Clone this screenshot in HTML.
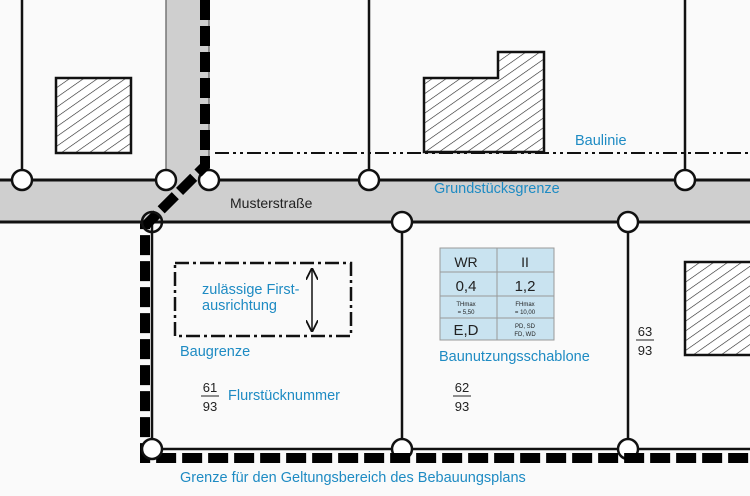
<!DOCTYPE html>
<html><head><meta charset="utf-8"><style>
html,body{margin:0;padding:0;background:#fafafa;}
svg{display:block;font-family:"Liberation Sans",sans-serif;}
.b{fill:#1e8bc3;font-size:14.5px;}
</style></head><body>
<svg width="750" height="496" viewBox="0 0 750 496" xmlns="http://www.w3.org/2000/svg">
<defs>
<pattern id="h" patternUnits="userSpaceOnUse" width="8" height="8" patternTransform="rotate(-35)">
<rect width="8" height="8" fill="#fff"/><line x1="0" y1="0" x2="8" y2="0" stroke="#222" stroke-width="1.2"/>
</pattern>
<marker id="a" viewBox="0 0 10 10" refX="9" refY="5" markerWidth="8" markerHeight="8" orient="auto-start-reverse"><path d="M0,0 L10,5 L0,10" fill="none" stroke="#111" stroke-width="1.5"/></marker>
</defs>
<rect width="750" height="496" fill="#fafafa"/>
<rect x="166" y="0" width="43" height="181" fill="#cfcfcf"/>
<rect x="0" y="180" width="750" height="42" fill="#cfcfcf"/>
<line x1="166" y1="0" x2="166" y2="180" stroke="#777" stroke-width="1.5"/>
<line x1="209" y1="0" x2="209" y2="180" stroke="#777" stroke-width="1.5"/>
<line x1="0" y1="180" x2="166" y2="180" stroke="#111" stroke-width="3"/>
<line x1="209" y1="180" x2="750" y2="180" stroke="#111" stroke-width="3"/>
<line x1="0" y1="222" x2="750" y2="222" stroke="#111" stroke-width="3"/>
<g stroke="#111" stroke-width="2.5">
<line x1="22" y1="0" x2="22" y2="180"/>
<line x1="369" y1="0" x2="369" y2="180"/>
<line x1="685" y1="0" x2="685" y2="180"/>
<line x1="152" y1="222" x2="152" y2="449"/>
<line x1="402" y1="222" x2="402" y2="449"/>
<line x1="628" y1="222" x2="628" y2="449"/>
<line x1="152" y1="449" x2="750" y2="449"/>
</g>
<rect x="56" y="78" width="75" height="75" fill="url(#h)" stroke="#111" stroke-width="2.5"/>
<path d="M424,152 L424,78 L498,78 L498,52 L544,52 L544,152 Z" fill="url(#h)" stroke="#111" stroke-width="2.5"/>
<rect x="685" y="262" width="70" height="93" fill="url(#h)" stroke="#111" stroke-width="2.5"/>
<line x1="215" y1="153" x2="750" y2="153" stroke="#111" stroke-width="2" stroke-dasharray="14,4,3,4,3,4"/>
<rect x="175" y="263" width="176" height="73" fill="none" stroke="#111" stroke-width="2.5" stroke-dasharray="14,4,3,4"/>
<line x1="312" y1="269" x2="312" y2="331" stroke="#111" stroke-width="1.5" marker-start="url(#a)" marker-end="url(#a)"/>
<g fill="#fff" stroke="#111" stroke-width="2.5">
<circle cx="22" cy="180" r="10"/><circle cx="166" cy="180" r="10"/><circle cx="209" cy="180" r="10"/>
<circle cx="369" cy="180" r="10"/><circle cx="685" cy="180" r="10"/>
<circle cx="402" cy="222" r="10"/><circle cx="628" cy="222" r="10"/>
<circle cx="402" cy="449" r="10"/><circle cx="628" cy="449" r="10"/>
</g>
<path d="M205,0 L205,166 L145,226 L145,458 L750,458" fill="none" stroke="#000" stroke-width="10" stroke-dasharray="20,6"/>
<g fill="#fff" stroke="#111" stroke-width="2.5">
<circle cx="152" cy="222" r="10" fill="none"/><circle cx="152" cy="449" r="10"/>
</g>
<rect x="440" y="248" width="114" height="92" fill="#c9e3f0" stroke="#999" stroke-width="1"/>
<g stroke="#999" stroke-width="1"><line x1="497" y1="248" x2="497" y2="340"/><line x1="440" y1="272" x2="554" y2="272"/><line x1="440" y1="296" x2="554" y2="296"/><line x1="440" y1="318" x2="554" y2="318"/></g>
<g fill="#222" text-anchor="middle">
<text x="466" y="267" font-size="14">WR</text><text x="525" y="267" font-size="14">II</text>
<text x="466" y="291" font-size="15">0,4</text><text x="525" y="291" font-size="15">1,2</text>
<text x="466" y="306" font-size="6">THmax</text><text x="466" y="314" font-size="6">= 5,50</text>
<text x="525" y="306" font-size="6">FHmax</text><text x="525" y="314" font-size="6">= 10,00</text>
<text x="466" y="335" font-size="15">E,D</text>
<text x="525" y="328" font-size="6">PD, SD</text><text x="525" y="336" font-size="6">FD, WD</text>
</g>
<text x="575" y="145" class="b">Baulinie</text>
<text x="434" y="193" class="b">Grundstücksgrenze</text>
<text x="230" y="208" font-size="14" fill="#222">Musterstraße</text>
<text x="202" y="294" class="b">zulässige First-</text>
<text x="202" y="310" class="b">ausrichtung</text>
<text x="180" y="356" class="b">Baugrenze</text>
<text x="439" y="361" class="b">Baunutzungsschablone</text>
<text x="228" y="400" class="b">Flurstücknummer</text>
<text x="180" y="482" class="b">Grenze für den Geltungsbereich des Bebauungsplans</text>
<g fill="#222" font-size="13" text-anchor="middle">
<text x="210" y="392">61</text><line x1="201" y1="396" x2="219" y2="396" stroke="#222"/><text x="210" y="411">93</text>
<text x="462" y="392">62</text><line x1="453" y1="396" x2="471" y2="396" stroke="#222"/><text x="462" y="411">93</text>
<text x="645" y="336">63</text><line x1="636" y1="340" x2="654" y2="340" stroke="#222"/><text x="645" y="355">93</text>
</g>
</svg>
</body></html>
